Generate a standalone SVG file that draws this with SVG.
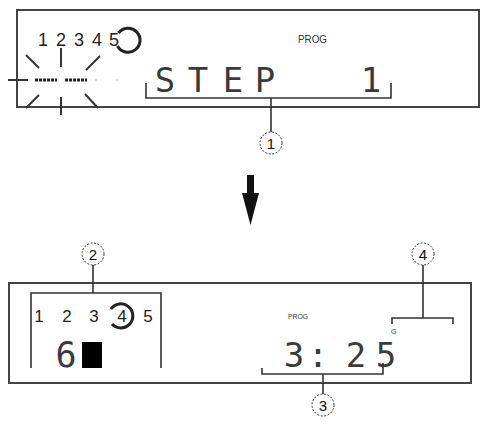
<svg xmlns="http://www.w3.org/2000/svg" width="485" height="428" viewBox="0 0 485 428">
<style>
.panel{fill:#fff;stroke:#444;stroke-width:2}
.ln{fill:none;stroke:#333;stroke-width:1.6}
.ray{fill:none;stroke:#333;stroke-width:2}
.ring{fill:none;stroke:#222;stroke-width:3}
.callout{fill:#fff;stroke:#333;stroke-width:1;stroke-dasharray:2 1.5}
.cnum{font-family:"Liberation Sans",Arial,sans-serif;font-size:15px;fill:#111;text-anchor:middle}
.seg{font-family:"Liberation Sans",Arial,sans-serif;fill:#222;text-anchor:middle}
.lcd{font-family:"DejaVu Sans Mono",monospace;fill:#3a3a3a;text-anchor:middle}
.small{font-family:"Liberation Sans",Arial,sans-serif;fill:#333}
</style>
<rect width="485" height="428" fill="#fff"/>

<g id="panel-top">
<rect class="panel" x="17" y="10" width="462" height="97"/>
<text class="seg" font-size="18" y="46"><tspan x="43">1</tspan><tspan x="61">2</tspan><tspan x="79">3</tspan><tspan x="97">4</tspan><tspan x="114">5</tspan></text>
<path class="ring" d="M118.5 33 A12 12 0 1 1 117.5 46"/>
<g id="blink">
<line class="ray" x1="8" y1="80" x2="28" y2="80"/>
<line class="ray" x1="61" y1="48" x2="61" y2="67"/>
<line class="ray" x1="61" y1="97" x2="61" y2="115"/>
<line class="ray" x1="26" y1="55" x2="39" y2="68"/>
<line class="ray" x1="100" y1="56" x2="86" y2="70"/>
<line class="ray" x1="39" y1="95" x2="26" y2="108"/>
<line class="ray" x1="85" y1="94" x2="98" y2="108"/>
<line x1="35" y1="80" x2="57" y2="80" stroke="#222" stroke-width="3" stroke-dasharray="3 1"/>
<line x1="65" y1="80" x2="87" y2="80" stroke="#222" stroke-width="3" stroke-dasharray="3 1"/>
<circle cx="96" cy="80" r="1" fill="#ccc"/>
<circle cx="117" cy="80" r="1" fill="#ccc"/>
</g>
<text class="lcd" font-size="34" y="92"><tspan x="165">S</tspan><tspan x="198">T</tspan><tspan x="233">E</tspan><tspan x="265">P</tspan><tspan x="371">1</tspan></text>
<text class="small" x="298" y="43" font-size="10" textLength="29" lengthAdjust="spacingAndGlyphs">PROG</text>
</g>

<g id="callout-1">
<circle class="callout" cx="271" cy="143" r="11"/>
<text class="cnum" x="271" y="148.5">1</text>
</g>

<g id="arrow">
<path d="M247 175 H254 V193 H259 L250.5 225 L242 193 H247 Z" fill="#111"/>
</g>

<g id="panel-bottom">
<rect class="panel" x="9" y="283" width="462" height="100"/>
<text class="seg" font-size="17" y="322"><tspan x="39">1</tspan><tspan x="67">2</tspan><tspan x="94">3</tspan><tspan x="122">4</tspan><tspan x="148">5</tspan></text>
<path class="ring" d="M111 309 A12 12 0 1 1 112 324"/>
<text class="lcd" font-size="35" x="66" y="367">6</text>
<rect x="82" y="342" width="20" height="26" fill="#000"/>
<text class="small" x="288" y="319" font-size="8" textLength="20" lengthAdjust="spacingAndGlyphs">PROG</text>
<text class="small" x="391" y="334" font-size="7">G</text>
<text class="lcd" font-size="34" y="367"><tspan x="294">3</tspan><tspan x="318">:</tspan><tspan x="356">2</tspan><tspan x="386">5</tspan></text>
</g>

<g id="callout-2">
<circle class="callout" cx="93" cy="254" r="11"/>
<text class="cnum" x="93" y="259.5">2</text>
</g>
<g id="callout-3">
<circle class="callout" cx="323" cy="405" r="11"/>
<text class="cnum" x="323" y="410.5">3</text>
</g>
<g id="callout-4">
<circle class="callout" cx="423" cy="254" r="11"/>
<text class="cnum" x="423" y="259.5">4</text>
</g>

<g id="connectors">
<path class="ln" d="M146 83 V98 H391 V83"/>
<line class="ln" x1="271" y1="98" x2="271" y2="132"/>
<path class="ln" d="M31 368 V293 H161 V368"/>
<line class="ln" x1="93" y1="293" x2="93" y2="265"/>
<path class="ln" d="M262 368 V374 H383 V363"/>
<line class="ln" x1="323" y1="374" x2="323" y2="394"/>
<path class="ln" d="M392 324 V318 H453 V324"/>
<line class="ln" x1="423" y1="318" x2="423" y2="265"/>
</g>
</svg>
